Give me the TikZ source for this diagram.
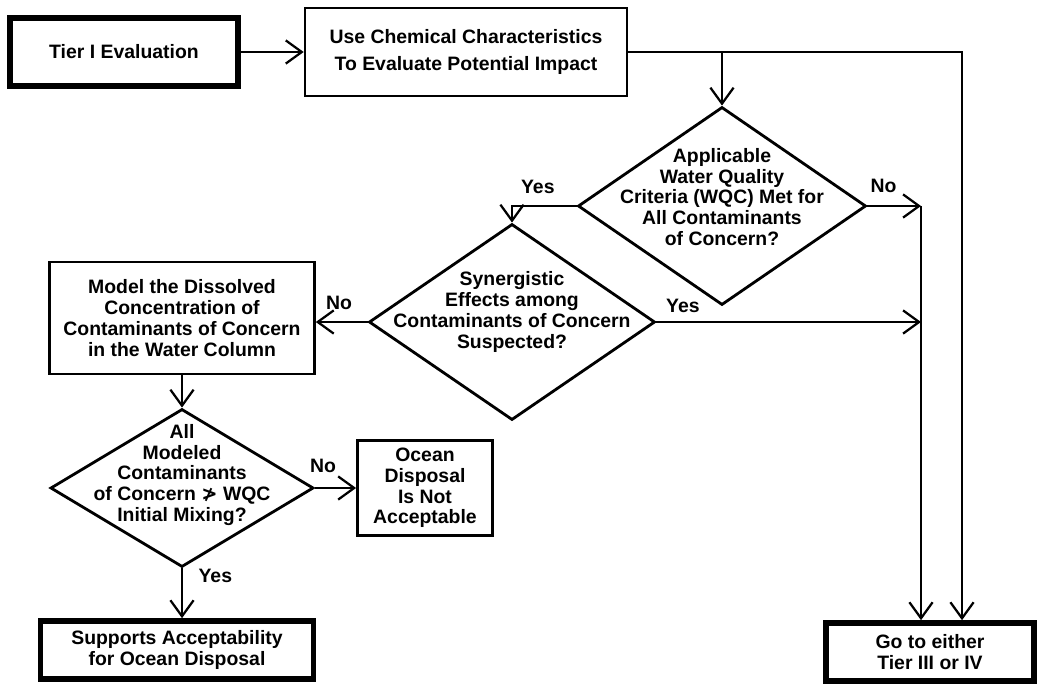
\documentclass[tikz,border=0pt]{standalone}
\usepackage{fontspec}
\setmainfont{Liberation Sans}
\newfontfamily\symfam{DejaVu Sans}
\usetikzlibrary{shapes.geometric,arrows.meta,positioning,calc}

\begin{document}
\begin{tikzpicture}[x=0.025cm,y=-0.025cm,
  every node/.append style={font=\fontsize{13.8}{14.8}\selectfont\bfseries,align=center},
  box/.style={draw,rectangle,line width=1.8pt,inner sep=0pt},
  endbox/.style={box,line width=4pt},
  decision/.style={draw,diamond,line width=2pt,inner sep=0pt},
  flow/.style={line width=1.6pt,-{Straight Barb[length=4mm,width=5.8mm]}}]
  \tikzstyle{answer} = [inner sep=1pt]
  \useasboundingbox (0,0) rectangle (1040,685);
  \node (tier1) [endbox,minimum width=5.7cm,minimum height=1.7cm] at (124,52) {Tier I Evaluation};
  \node (usechem) [box,minimum width=8.05cm,minimum height=2.2cm] at (466,52)
    {Use Chemical Characteristics\\[5pt]To Evaluate Potential Impact};
  \node (wqc) [decision,minimum width=7.2cm,minimum height=4.95cm] at (722,206) {};
  \node (wqc-t) at ($(wqc)+(0,-9)$)
    {Applicable\\Water Quality\\Criteria (WQC) Met for\\All Contaminants\\of Concern?};
  \node (syn) [decision,minimum width=7.15cm,minimum height=4.9cm] at (512,322) {};
  \node (syn-t) at ($(syn)+(0,-10)$)
    {Synergistic\\Effects among\\Contaminants of Concern\\Suspected?};
  \node (model) [box,minimum width=6.625cm,minimum height=2.8cm] at (182,318)
    {Model the Dissolved\\Concentration of\\Contaminants of Concern\\in the Water Column};
  \node (mix) [decision,minimum width=6.575cm,minimum height=3.95cm] at (182,488) {};
  \node (mix-t) at ($(mix)+(0,-13)$)
    {All\\Modeled\\Contaminants\\of Concern {\symfam ≯} WQC\\Initial Mixing?};
  \node (ocean) [box,line width=2pt,minimum width=3.375cm,minimum height=2.375cm] at (425,488)
    {Ocean\\Disposal\\Is Not\\Acceptable};
  \node (supports) [endbox,minimum width=6.825cm,minimum height=1.45cm] at (177,650)
    {Supports Acceptability\\for Ocean Disposal};
  \node (goto) [endbox,minimum width=5.2cm,minimum height=1.45cm] at (930,652)
    {Go to either\\Tier III or IV};
  \coordinate (railA) at (921,0);
  \coordinate (railB) at (962,0);
  \draw[flow] (tier1) -- (usechem);
  \draw[flow] (usechem.east) -| (goto.north -| railB);
  \draw[flow] (usechem.east -| wqc.north) -- (wqc.north);
  \draw[flow] (wqc.west) -| node[answer,above=7pt,pos=0.3] {Yes} (syn.north);
  \draw[flow] (wqc.east) -- node[answer,above=8pt,pos=0.3] {No} (wqc.east -| railA);
  \draw[flow] (wqc.east -| railA) -- (goto.north -| railA);
  \draw[flow] (syn.east) -- node[answer,above=5pt,pos=0.1] {Yes} (syn.east -| railA);
  \draw[flow] (syn.west) -- node[answer,above=7pt,pos=0.55] {No} (syn.west -| model.east);
  \draw[flow] (model.south) -- (mix.north);
  \draw[flow] (mix.east) -- node[answer,above=9pt,pos=0.2] {No} (ocean.west);
  \draw[flow] (mix.south) -- node[answer,right=10pt,pos=0.15] {Yes} (mix.south |- supports.north);
\end{tikzpicture}
\end{document}
